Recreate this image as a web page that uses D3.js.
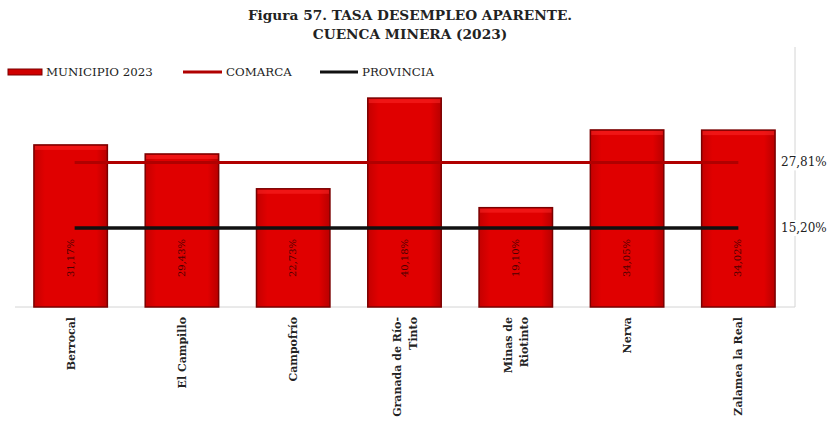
<!DOCTYPE html>
<html><head><meta charset="utf-8">
<script src="https://cdn.jsdelivr.net/npm/d3@7"></script>
<style>body{margin:0;background:#fff}svg{display:block}</style>
</head><body>
<svg id="c" width="837" height="426"></svg>
<script>
const categories = ["Berrocal","El Campillo","Campofrío","Granada de Río-Tinto","Minas de Riotinto","Nerva","Zalamea la Real"];
const categoryLines = [["Berrocal"],["El Campillo"],["Campofrío"],["Granada de Río-","Tinto"],["Minas de","Riotinto"],["Nerva"],["Zalamea la Real"]];
const municipio = [31.17, 29.43, 22.73, 40.18, 19.10, 34.05, 34.02];
const comarca = 27.81;
const provincia = 15.20;
const refLabels = ["27,81%","15,20%"];
const title = ["Figura 57. TASA DESEMPLEO APARENTE.","CUENCA MINERA (2023)"];
const legendNames = ["MUNICIPIO 2023","COMARCA","PROVINCIA"];

const svg = d3.select("#c");
const serif = "'DejaVu Serif','Liberation Serif',serif";
const x = d3.scaleBand().domain(categories).range([15, 794]).paddingInner(0.34).paddingOuter(0.17);
const y = d3.scaleLinear().domain([0, 50]).range([307, 47]);

const defs = svg.append("defs");
const g = defs.append("linearGradient").attr("id","bg").attr("x1","0").attr("x2","1").attr("y1","0").attr("y2","0");
g.append("stop").attr("offset","0").attr("stop-color","#c40000");
g.append("stop").attr("offset","0.15").attr("stop-color","#e00000");
g.append("stop").attr("offset","0.85").attr("stop-color","#e00000");
g.append("stop").attr("offset","1").attr("stop-color","#b80000");

// title
svg.append("g").selectAll("text").data(title).join("text")
  .attr("x", 410).attr("y",(d,i)=>20+i*19).attr("text-anchor","middle")
  .attr("font-family",serif).attr("font-weight","bold").attr("font-size",13.7).attr("fill","#222")
  .text(d=>d);

// right axis line & baseline
svg.append("line").attr("x1",795).attr("x2",795).attr("y1",y(50)).attr("y2",y(0)).attr("stroke","#d4d4d4");
svg.append("line").attr("x1",15).attr("x2",795).attr("y1",y(0)).attr("y2",y(0)).attr("stroke","#d4d4d4");

// bars
svg.append("g").selectAll("rect").data(municipio).join("rect")
  .attr("x",(d,i)=>x(categories[i])).attr("y",d=>y(d))
  .attr("width",x.bandwidth()).attr("height",d=>y(0)-y(d))
  .attr("fill","url(#bg)").attr("stroke","#7a0000").attr("stroke-width",1.5);
svg.append("g").selectAll("rect").data(municipio).join("rect")
  .attr("x",(d,i)=>x(categories[i])+1).attr("y",d=>y(d)+1)
  .attr("width",x.bandwidth()-2).attr("height",4).attr("fill","#ff2a2a").attr("opacity",0.5);

// reference lines
const x0 = x(categories[0]) + x.bandwidth()/2 + 4;
const x1 = x(categories[categories.length-1]) + x.bandwidth()/2;
svg.append("line").attr("x1",x0).attr("x2",x1).attr("y1",y(comarca)).attr("y2",y(comarca))
  .attr("stroke","#b00000").attr("stroke-width",3);
svg.append("line").attr("x1",x0).attr("x2",x1).attr("y1",y(provincia)).attr("y2",y(provincia))
  .attr("stroke","#111").attr("stroke-width",3.5);
const rl = svg.append("g").selectAll("g").data([comarca,provincia]).join("g");
rl.append("rect").attr("x",780).attr("y",d=>y(d)-8).attr("width",55).attr("height",16).attr("fill","#fff");
rl.append("text").attr("x",781).attr("y",d=>y(d)+4).attr("font-family",serif).attr("font-size",12).attr("fill","#222")
  .text((d,i)=>refLabels[i]);

// value labels
svg.append("g").selectAll("text").data(municipio).join("text")
  .attr("transform",(d,i)=>`translate(${x(categories[i])+x.bandwidth()/2+3},258) rotate(-90)`)
  .attr("text-anchor","middle").attr("font-family",serif).attr("font-size",10).attr("fill","#4a0000")
  .text(d=>d.toFixed(2).replace(".",",")+"%");

// category labels
const cl = svg.append("g").selectAll("g").data(categoryLines).join("g")
  .attr("transform",(d,i)=>`translate(${x(categories[i])+x.bandwidth()/2},317) rotate(-90)`);
cl.each(function(lines){
  const n = lines.length;
  d3.select(this).selectAll("text").data(lines).join("text")
    .attr("x",0).attr("y",(d,j)=>4 + (j-(n-1)/2)*16)
    .attr("text-anchor","end").attr("font-family",serif).attr("font-weight","bold")
    .attr("font-size",11).attr("fill","#222").text(d=>d);
});

// legend
const leg = svg.append("g");
leg.append("rect").attr("x",8).attr("y",69).attr("width",34).attr("height",6).attr("fill","#d00000").attr("stroke","#7a0000");
leg.append("line").attr("x1",183).attr("x2",222).attr("y1",72).attr("y2",72).attr("stroke","#b00000").attr("stroke-width",3);
leg.append("line").attr("x1",320).attr("x2",358).attr("y1",72).attr("y2",72).attr("stroke","#111").attr("stroke-width",3);
leg.selectAll("text").data(legendNames).join("text")
  .attr("x",(d,i)=>[46,226,362][i]).attr("y",76).attr("font-family",serif).attr("font-size",11.8).attr("fill","#222")
  .text(d=>d);
</script>
</body></html>
